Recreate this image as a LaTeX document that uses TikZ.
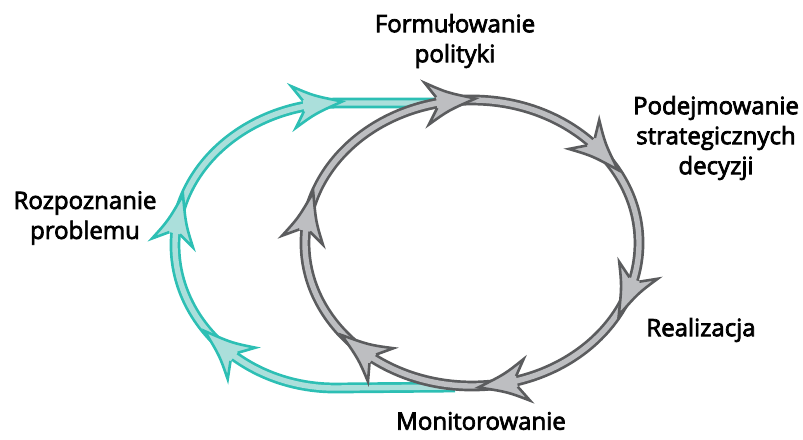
\documentclass[tikz,border=0pt]{standalone}
\usepackage{fontspec}
\setmainfont{Open Sans}
\newfontfamily\labelfont[FakeBold=3]{Open Sans}
\usetikzlibrary{decorations.markings}

\definecolor{grayline}{HTML}{5B5C5E}
\definecolor{grayfill}{HTML}{BDBEC1}
\definecolor{tealline}{HTML}{2DBFB4}
\definecolor{tealfill}{HTML}{ABDFDB}

% barbed head, drawn on top of the band
\newcommand{\cyclehead}[2]{%
  \fill[#2] (-7.5pt,2.7pt) -- (-12.5pt,10.5pt) .. controls (-2pt,4.5pt) .. (12pt,0pt)
    .. controls (-2pt,-4.5pt) .. (-12.5pt,-10.5pt) -- (-7.5pt,-2.7pt) -- cycle;
  \draw[#1, line width=1.3pt, line join=miter] (-7.5pt,2.7pt) -- (-12.5pt,10.5pt)
    .. controls (-2pt,4.5pt) .. (12pt,0pt) .. controls (-2pt,-4.5pt) .. (-12.5pt,-10.5pt)
    -- (-7.5pt,-2.7pt);}

\tikzset{
  band/.style 2 args={draw=#1, double=#2, line width=1.35pt, double distance=2.7pt},
  label/.style={align=center, font=\labelfont\fontsize{12}{15}\selectfont, text=black}
}

\begin{document}
\begin{tikzpicture}[x=0.5pt, y=0.5pt]
   \useasboundingbox (0,0) rectangle (803,-439);

   \node[label] (F) at (455,-41) {Formułowanie\\polityki};
   \node[label] (P) at (716,-138) {Podejmowanie\\strategicznych\\decyzji};
   \node[label] (R) at (701,-330) {Realizacja};
   \node[label] (M) at (481,-421) {Monitorowanie};
   \node[label] (Z) at (85,-218) {Rozpoznanie\\problemu};

   % teal loop
   \draw[band={tealline}{tealfill},
     decoration={markings,
       mark=at position 0.346 with {\cyclehead{tealline}{tealfill}},
       mark=at position 0.55 with {\cyclehead{tealline}{tealfill}},
       mark=at position 0.826 with {\cyclehead{tealline}{tealfill}}},
     postaction={decorate}]
     (455,-387) -- (335,-388)
     arc[start angle=-90, end angle=-180, x radius=160, y radius=143]
     arc[start angle=180, end angle=90, x radius=165, y radius=142]
     -- (440,-103);

   % gray cycle
   \draw[band={grayline}{grayfill},
     decoration={markings,
       mark=at position 0.053 with {\cyclehead{grayline}{grayfill}},
       mark=at position 0.219 with {\cyclehead{grayline}{grayfill}},
       mark=at position 0.372 with {\cyclehead{grayline}{grayfill}},
       mark=at position 0.528 with {\cyclehead{grayline}{grayfill}},
       mark=at position 0.729 with {\cyclehead{grayline}{grayfill}},
       mark=at position 0.897 with {\cyclehead{grayline}{grayfill}}},
     postaction={decorate}]
     (639,-243) arc[start angle=0, end angle=-360, x radius=167, y radius=143];

\end{tikzpicture}
\end{document}
